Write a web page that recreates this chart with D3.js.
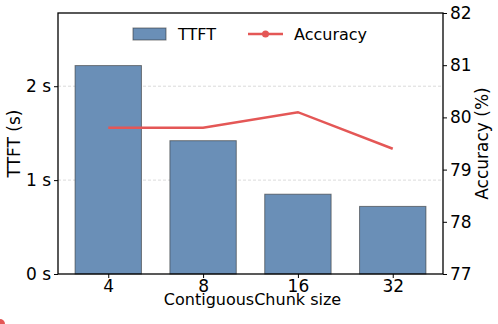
<!DOCTYPE html>
<html><head><meta charset="utf-8">
<script src="https://cdn.jsdelivr.net/npm/d3@7"></script>
<style>body{margin:0;background:#fff}svg{display:block}text{font-family:"DejaVu Sans",sans-serif;fill:#000}</style>
</head><body><svg id="c" width="498" height="324"></svg>
<script>
const categories = ["4","8","16","32"];
const ttft = [2.22, 1.42, 0.85, 0.72];
const accuracy = [79.8, 79.8, 80.1, 79.4];
const leftTicks = [0,1,2];
const rightTicks = [77,78,79,80,81,82];

const svg = d3.select("#c");
const L = 58, R = 443, T = 13, B = 274;
const x = d3.scaleLinear().domain([-0.53, 3.53]).range([L, R]);
const y = d3.scaleLinear().domain([0, 2.78]).range([B, T]);
const y2 = d3.scaleLinear().domain([77, 82]).range([B, T]);
const bw = x(0.7) - x(0);

// grid
svg.append("g").selectAll("line").data(leftTicks.filter(d=>d>0)).join("line")
  .attr("x1", L).attr("x2", R).attr("y1", d=>y(d)).attr("y2", d=>y(d))
  .attr("stroke", "#ccc").attr("stroke-width", 0.7).attr("stroke-dasharray", "3,2");

// bars
svg.append("g").selectAll("rect").data(ttft).join("rect")
  .attr("x", (d,i)=>x(i)-bw/2).attr("width", bw)
  .attr("y", d=>y(d)).attr("height", d=>B - y(d))
  .attr("fill", "#6a8fb7").attr("stroke", "#333").attr("stroke-opacity", 0.6).attr("stroke-width", 1);

// line
svg.append("path").datum(accuracy)
  .attr("d", d3.line().x((d,i)=>x(i)).y(d=>y2(d)))
  .attr("fill", "none").attr("stroke", "#e45756").attr("stroke-width", 2.5);

// axes
const fs = "17px";
const ax = svg.append("g").attr("transform", `translate(0,${B})`)
  .call(d3.axisBottom(x).tickValues([0,1,2,3]).tickFormat(i=>categories[i]).tickSize(4).tickPadding(2));
const al = svg.append("g").attr("transform", `translate(${L},0)`)
  .call(d3.axisLeft(y).tickValues(leftTicks).tickFormat(d=>d+" s").tickSize(4).tickPadding(3));
const ar = svg.append("g").attr("transform", `translate(${R},0)`)
  .call(d3.axisRight(y2).tickValues(rightTicks).tickFormat(d3.format("d")).tickSize(4).tickPadding(3));
[ax,al,ar].forEach(g=>{
  g.select(".domain").remove();
  g.selectAll("line").attr("stroke","#000").attr("stroke-width",1);
  g.selectAll("text").style("font-size", fs).style("font-family","DejaVu Sans");
});
// frame
svg.append("rect").attr("x", L).attr("y", T).attr("width", R-L).attr("height", B-T)
  .attr("fill","none").attr("stroke","#000").attr("stroke-width",1.3);

// labels
svg.append("text").attr("x", (L+R)/2 + 2).attr("y", 305).attr("text-anchor","middle")
  .style("font-size","16px").text("ContiguousChunk size");
svg.append("text").attr("transform", `translate(20,${(T+B)/2}) rotate(-90)`).attr("text-anchor","middle")
  .style("font-size","17px").text("TTFT (s)");
svg.append("text").attr("transform", `translate(488,${(T+B)/2}) rotate(-90)`).attr("text-anchor","middle")
  .style("font-size","17px").text("Accuracy (%)");

// legend
const lg = svg.append("g");
lg.append("rect").attr("x",133).attr("y",28).attr("width",33).attr("height",12)
  .attr("fill","#6a8fb7").attr("stroke","#333").attr("stroke-opacity",0.6);
lg.append("text").attr("x",178).attr("y",39.5).style("font-size","16px").text("TTFT");
lg.append("line").attr("x1",248).attr("x2",283).attr("y1",34).attr("y2",34)
  .attr("stroke","#e45756").attr("stroke-width",2.5);
lg.append("circle").attr("cx",265.5).attr("cy",34).attr("r",3.5).attr("fill","#e45756");
lg.append("text").attr("x",294).attr("y",39.5).style("font-size","16px").text("Accuracy");

// stray marker artifact in the corner
svg.append("circle").attr("cx",0).attr("cy",324).attr("r",5).attr("fill","#e45756");
</script></body></html>
